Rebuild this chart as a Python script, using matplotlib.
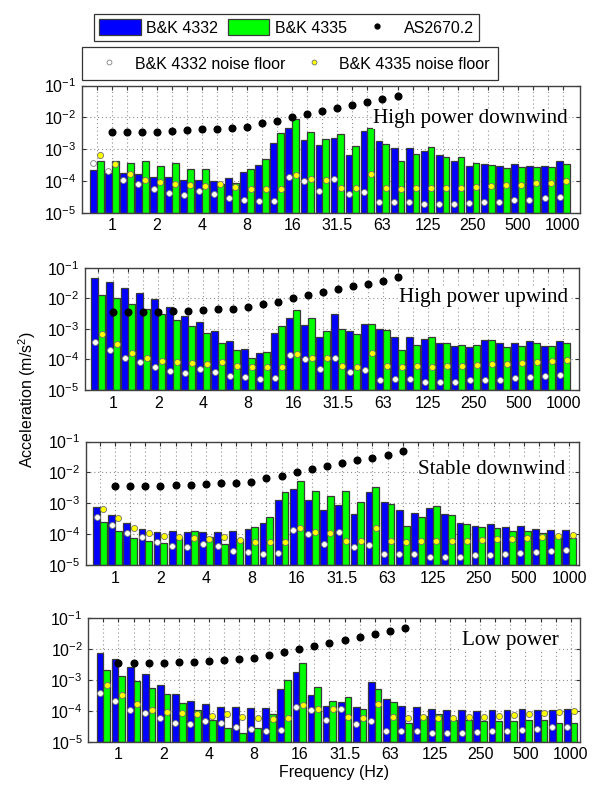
import numpy as np
import matplotlib
matplotlib.use("Agg")
import matplotlib.pyplot as plt
from matplotlib.patches import Patch
from matplotlib.lines import Line2D

plt.rcParams['font.family'] = ['Liberation Sans', 'DejaVu Sans']
plt.rcParams['mathtext.fontset'] = 'custom'
plt.rcParams['mathtext.rm'] = 'Liberation Sans'

# 1/3-octave band centre frequencies (Hz)
bands = ["0.8", "1", "1.25", "1.6", "2", "2.5", "3.15", "4", "5", "6.3", "8", "10",
         "12.5", "16", "20", "25", "31.5", "40", "50", "63", "80", "100", "125",
         "160", "200", "250", "315", "400", "500", "630", "800", "1000"]
tick_labels = ["1", "2", "4", "8", "16", "31.5", "63", "125", "250", "500", "1000"]

# AS2670.2 criterion, 1 Hz .. 80 Hz
as2670 = [3.5e-3, 3.5e-3, 3.5e-3, 3.5e-3, 3.8e-3, 3.9e-3, 4.2e-3, 4.4e-3, 4.6e-3, 5.0e-3,
          6.5e-3, 7.8e-3, 1.02e-2, 1.25e-2, 1.55e-2, 1.95e-2, 2.5e-2, 2.95e-2, 3.75e-2, 4.85e-2]

# Noise floors
noise_4332 = [3.7e-4, 2.0e-4, 1.08e-4, 8.2e-5, 5.7e-5, 4.1e-5, 3.7e-5, 4.8e-5, 4.0e-5, 2.9e-5,
              2.6e-5, 2.3e-5, 2.4e-5, 1.35e-4, 1.03e-4, 4.9e-5, 1.15e-4, 3.8e-5, 4.5e-5, 2.2e-5,
              2.25e-5, 2.25e-5, 1.85e-5, 1.85e-5, 1.85e-5, 2.05e-5, 2.15e-5, 2.2e-5, 2.45e-5,
              2.6e-5, 2.9e-5, 3.1e-5]
noise_4335 = [6.7e-4, 3.3e-4, 1.6e-4, 1.08e-4, 9.0e-5, 8.2e-5, 7.6e-5, 7.0e-5, 8.0e-5, 6.3e-5,
              5.7e-5, 5.5e-5, 5.7e-5, 1.55e-4, 1.14e-4, 1.1e-4, 6.2e-5, 5.8e-5, 1.61e-4, 6.2e-5,
              5.7e-5, 6.2e-5, 5.8e-5, 6.0e-5, 6.2e-5, 6.5e-5, 6.9e-5, 7.2e-5, 7.6e-5, 8.3e-5,
              8.8e-5, 9.6e-5]

# Measured accelerations (m/s^2)
hp_down_4332 = [2.2e-4, 1.73e-4, 1.73e-4, 1.6e-4, 1.3e-4, 1.3e-4, 1.07e-4, 1.07e-4, 9.9e-5, 1.26e-4,
                1.86e-4, 3.1e-4, 1.6e-3, 4.7e-3, 1.9e-3, 1.35e-3, 2.24e-3, 6.5e-4, 3.7e-3, 1.76e-3,
                1.06e-3, 1.06e-3, 8.7e-4, 6.5e-4, 4.3e-4, 2.9e-4, 3.5e-4, 2.9e-4, 3.5e-4, 2.9e-4,
                2.9e-4, 4.1e-4]
hp_down_4335 = [4.2e-4, 4.2e-4, 3.75e-4, 4.3e-4, 2.94e-4, 3.75e-4, 2.43e-4, 2.3e-4, 7.8e-5, 8.8e-5,
                2.43e-4, 5.0e-4, 3.14e-3, 8.7e-3, 3.4e-3, 2.04e-3, 2.92e-3, 1.22e-3, 4.7e-3, 1.45e-3,
                4.1e-4, 6.9e-4, 1.14e-3, 5.8e-4, 5.8e-4, 3.8e-4, 3.2e-4, 2.5e-4, 2.7e-4, 2.7e-4,
                2.7e-4, 3.5e-4]
hp_up_4332 = [4.7e-2, 3.3e-2, 2.16e-2, 1.52e-2, 9.2e-3, 5.0e-3, 2.63e-3, 1.67e-3, 8.5e-4, 4.0e-4,
              2.14e-4, 1.62e-4, 7.1e-4, 2.26e-3, 1.3e-3, 5.5e-4, 3.13e-3, 8.5e-4, 1.44e-3, 9.9e-4,
              5.5e-4, 5.5e-4, 4.5e-4, 3.44e-4, 2.8e-4, 2.55e-4, 4.2e-4, 3.44e-4, 3.44e-4, 3.9e-4,
              2.75e-4, 3.9e-4]
hp_up_4335 = [1.28e-2, 9.9e-3, 6.3e-3, 4.45e-3, 2.98e-3, 1.9e-3, 1.24e-3, 7.1e-4, 3.5e-4, 2.0e-4,
              1.08e-4, 1.79e-4, 1.24e-3, 4.1e-3, 2.26e-3, 8.5e-4, 9.9e-4, 6.6e-4, 1.44e-3, 9.2e-4,
              2.08e-4, 3.04e-4, 5.5e-4, 3.44e-4, 3.04e-4, 3.04e-4, 4.2e-4, 2.48e-4, 2.68e-4, 3.44e-4,
              2.75e-4, 3.44e-4]
st_down_4332 = [7.7e-4, 4.15e-4, 2.29e-4, 1.46e-4, 1.14e-4, 1.26e-4, 1.14e-4, 1.14e-4, 1.14e-4, 1.26e-4,
                1.46e-4, 2.29e-4, 1.27e-3, 2.81e-3, 1.27e-3, 5.9e-4, 8.7e-4, 4.6e-4, 2.3e-3, 1.12e-3,
                5.9e-4, 4.8e-4, 6.8e-4, 4.5e-4, 2.23e-4, 1.87e-4, 2.07e-4, 1.74e-4, 1.87e-4, 1.46e-4,
                1.32e-4, 1.32e-4]
st_down_4335 = [2.4e-4, 1.23e-4, 7.5e-5, 5.8e-5, 5.2e-5, 8.1e-5, 1.26e-4, 8.1e-5, 4.8e-5, 6.9e-5,
                1.74e-4, 3.6e-4, 2.3e-3, 5.4e-3, 2.48e-3, 1.67e-3, 2.42e-3, 1.07e-3, 3.26e-3, 9.7e-4,
                1.87e-4, 3.5e-4, 8.1e-4, 4.05e-4, 2.07e-4, 1.74e-4, 1.62e-4, 1.23e-4, 1.23e-4, 1.06e-4,
                8.1e-5, 7.3e-5]
lp_4332 = [7.4e-3, 4.8e-3, 2.64e-3, 1.5e-3, 7.0e-4, 3.5e-4, 2.13e-4, 1.63e-4, 1.37e-4, 1.37e-4,
           1.27e-4, 1.27e-4, 5.2e-4, 1.74e-3, 3.2e-4, 1.47e-4, 1.89e-4, 1.37e-4, 8.3e-4, 2.47e-4,
           1.47e-4, 1.37e-4, 1.15e-4, 1.04e-4, 1.04e-4, 9.7e-5, 1.04e-4, 1.04e-4, 1.15e-4, 1.04e-4,
           1.04e-4, 1.15e-4]
lp_4335 = [2.12e-3, 1.33e-3, 8.9e-4, 5.6e-4, 3.5e-4, 1.84e-4, 1.04e-4, 4.85e-5, 2.68e-5, 1.85e-5,
           2.68e-5, 8.1e-5, 9.6e-4, 3.47e-3, 5.7e-4, 2.13e-4, 2.73e-4, 1.12e-4, 4.9e-4, 1.89e-4,
           4.1e-5, 6.7e-5, 8.1e-5, 5.0e-5, 5.0e-5, 4.6e-5, 4.6e-5, 4.6e-5, 5.0e-5, 5.0e-5,
           4.1e-5, 4.1e-5]

panels = [
    ("High power downwind", hp_down_4332, hp_down_4335),
    ("High power upwind", hp_up_4332, hp_up_4335),
    ("Stable downwind", st_down_4332, st_down_4335),
    ("Low power", lp_4332, lp_4335),
]

# layout (pixels): left, right, top, bottom ; xlim ; title position (axes fraction)
W, H = 599, 787
boxes = [(81.7, 579.5, 85.6, 212.7), (85.0, 579.3, 267.7, 390.0),
         (86.0, 579.3, 441.5, 565.0), (88.3, 579.7, 618.0, 741.7)]
xlims = [(-1.0, 32.1), (-0.88, 32.07), (-0.92, 31.66), (-1.0, 31.6)]
title_pos = [(0.977, 0.738), (0.977, 0.758), (0.972, 0.777), (0.957, 0.822)]

YMIN, YMAX = 1e-5, 1e-1
BW = 0.45
x = np.arange(len(bands))
x_as = np.arange(1, 1 + len(as2670))
tick_pos = [bands.index(t) for t in tick_labels]

fig = plt.figure(figsize=(W / 100, H / 100), dpi=100)
axes = []
for (name, b32, b35), (l, r, t, b), xl, tp in zip(panels, boxes, xlims, title_pos):
    ax = fig.add_axes([l / W, 1 - b / H, (r - l) / W, (b - t) / H])
    ax.set_yscale('log')
    ax.set_ylim(YMIN, YMAX)
    ax.set_xlim(*xl)
    ax.set_axisbelow(True)
    ax.bar(x - BW / 2, np.array(b32) - YMIN, bottom=YMIN, width=BW, color='#0000ff',
           edgecolor='#3a3a3a', linewidth=0.9, zorder=2)
    ax.bar(x + BW / 2, np.array(b35) - YMIN, bottom=YMIN, width=BW, color='#00ff00',
           edgecolor='#3a3a3a', linewidth=0.9, zorder=2)
    ax.plot(x_as, as2670, 'o', color='black', markersize=4.8, zorder=4)
    ax.plot(x - BW / 2, noise_4332, 'o', markerfacecolor='white', markeredgecolor='#808080',
            markeredgewidth=0.6, markersize=4.2, zorder=4)
    ax.plot(x + BW / 2, noise_4335, 'o', markerfacecolor='#ffff00', markeredgecolor='#707070',
            markeredgewidth=0.6, markersize=4.4, zorder=4)
    ax.set_xticks(x)
    ax.set_xticklabels([bands[i] if i in tick_pos else "" for i in x])
    ax.set_yticks([1e-5, 1e-4, 1e-3, 1e-2, 1e-1])
    ax.yaxis.set_minor_locator(matplotlib.ticker.NullLocator())
    ax.tick_params(axis='both', which='major', direction='in', top=True, right=True,
                   length=3, width=0.8, color='#333333', labelsize=11.5, pad=4)
    ax.grid(True, which='major', linestyle=(0, (1, 2.5)), color='#909090', linewidth=0.8)
    for s in ax.spines.values():
        s.set_color('#404040')
        s.set_linewidth(1.0)
    ax.text(tp[0], tp[1], name, transform=ax.transAxes, ha='right', va='center',
            family=['Liberation Serif', 'DejaVu Serif'], fontsize=15.2, zorder=5,
            bbox=dict(facecolor='white', edgecolor='none', pad=0.5))
    axes.append(ax)

axes[-1].set_xlabel("Frequency (Hz)", fontsize=11.5, labelpad=2)
fig.text(27 / W, 1 - 400 / H, "Acceleration (m/s$^2$)", rotation=90, ha='center', va='center',
         fontsize=11.5)

h1 = [Patch(facecolor='#0000ff', edgecolor='#3a3a3a', linewidth=0.9),
      Patch(facecolor='#00ff00', edgecolor='#3a3a3a', linewidth=0.9),
      Line2D([], [], linestyle='none', marker='o', color='black', markersize=3.5)]
leg1 = fig.legend(h1, ["B&K 4332", "B&K 4335", "AS2670.2"], ncol=3, loc='center',
                  bbox_to_anchor=(286.5 / W, 1 - 27.5 / H), fontsize=11.5, frameon=True,
                  fancybox=False, edgecolor='black', handlelength=2.6, handleheight=1.1,
                  columnspacing=0.6, handletextpad=0.35, borderpad=0.35, borderaxespad=0)
leg1.get_frame().set_linewidth(0.9)
h2 = [Line2D([], [], linestyle='none', marker='o', markerfacecolor='white',
             markeredgecolor='#808080', markeredgewidth=0.6, markersize=3.5),
      Line2D([], [], linestyle='none', marker='o', markerfacecolor='#ffff00',
             markeredgecolor='#707070', markeredgewidth=0.6, markersize=3.5)]
leg2 = fig.legend(h2, ["B&K 4332 noise floor", "B&K 4335 noise floor"], ncol=2, loc='center',
                  bbox_to_anchor=(290 / W, 1 - 63.5 / H), fontsize=11.5, frameon=True,
                  fancybox=False, edgecolor='black', handlelength=2.4, handleheight=1.1,
                  columnspacing=0.6, handletextpad=0.4, borderpad=0.5, borderaxespad=0)
leg2.get_frame().set_linewidth(0.9)

fig.savefig("out.png", dpi=100, facecolor='white')
